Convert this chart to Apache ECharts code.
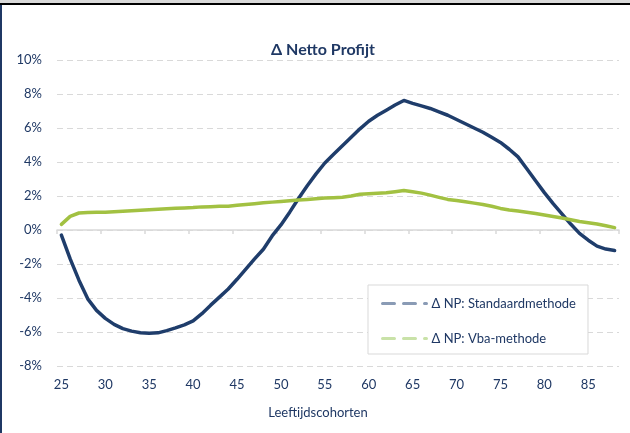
<!DOCTYPE html>
<html>
<head>
<meta charset="utf-8">
<script src="https://cdn.jsdelivr.net/npm/echarts@6/dist/echarts.min.js"></script>
<style>
html,body{margin:0;padding:0;background:#fff;}
#chart{width:630px;height:433px;}
</style>
</head>
<body>
<div id="chart"></div>
<script>
const ages = [];
for (let a = 25; a <= 88; a++) ages.push(String(a));

const standaard = [
  -0.3, -1.7, -2.95, -4.05, -4.73, -5.2, -5.55, -5.8, -5.95, -6.04,
  -6.07, -6.05, -5.92, -5.76, -5.58, -5.35, -4.92, -4.42, -3.95, -3.47,
  -2.9, -2.3, -1.7, -1.13, -0.35, 0.3, 1.05, 1.85, 2.6, 3.3,
  3.94, 4.45, 4.95, 5.45, 5.95, 6.4, 6.75, 7.05, 7.35, 7.62,
  7.45, 7.3, 7.15, 6.95, 6.75, 6.5, 6.25, 6.0, 5.75, 5.45,
  5.15, 4.75, 4.3, 3.6, 2.9, 2.2, 1.55, 0.95, 0.35, -0.2,
  -0.6, -0.95, -1.12, -1.2
];

const vba = [
  0.33, 0.8, 1.0, 1.03, 1.04, 1.05, 1.08, 1.11, 1.13, 1.16,
  1.19, 1.22, 1.25, 1.28, 1.3, 1.32, 1.36, 1.37, 1.39, 1.4,
  1.45, 1.5, 1.55, 1.6, 1.64, 1.68, 1.72, 1.76, 1.8, 1.84,
  1.88, 1.9, 1.93, 2.0, 2.1, 2.13, 2.16, 2.19, 2.25, 2.32,
  2.25, 2.17, 2.05, 1.92, 1.8, 1.73, 1.66, 1.58, 1.5, 1.4,
  1.27, 1.18, 1.12, 1.05, 0.97, 0.88, 0.8, 0.71, 0.6, 0.5,
  0.43, 0.35, 0.25, 0.14
];

const seriesNames = ['\u0394 NP: Standaardmethode', '\u0394 NP: Vba-methode'];
const titleText = '\u0394 Netto Profijt';
const xName = 'Leeftijdscohorten';

const navy = '#1f3d6b';
const green = '#a2c142';
const textColor = '#1f3864';
const font = 'Lato, "Open Sans", sans-serif';

const chart = echarts.init(document.getElementById('chart'), null, {renderer: 'canvas'});
chart.setOption({
  animation: false,
  backgroundColor: '#fff',
  title: {
    text: titleText,
    left: 318, top: 37,
    textAlign: 'center',
    textStyle: {fontFamily: font, fontSize: 16, fontWeight: 'bold', color: textColor}
  },
  graphic: [
    {type: 'rect', shape: {x: 0, y: 0, width: 630, height: 3}, style: {fill: '#d9d9d9'}},
    {type: 'rect', shape: {x: 0, y: 3, width: 630, height: 2}, style: {fill: '#000'}},
    {type: 'rect', shape: {x: 0, y: 5, width: 2, height: 428}, style: {fill: '#1f3864'}},
    {type: 'text', x: 318, y: 406,
      style: {text: xName, fontFamily: font, fontSize: 13, fill: textColor, textAlign: 'center'}}
  ],
  legend: {
    orient: 'vertical',
    left: 368, top: 285,
    padding: [12, 12, 9, 13],
    backgroundColor: '#fff',
    borderColor: '#d9d9d9',
    borderWidth: 1,
    borderRadius: 0,
    itemWidth: 44,
    itemHeight: 14,
    itemGap: 22,
    textStyle: {fontFamily: font, fontSize: 13, color: textColor},
    data: [
      {name: seriesNames[0], lineStyle: {color: '#8a9bb5', width: 3, type: [12, 9]}, itemStyle: {opacity: 0}},
      {name: seriesNames[1], lineStyle: {color: '#c9e2a8', width: 3, type: [12, 9]}, itemStyle: {opacity: 0}}
    ]
  },
  grid: {left: 57, right: 11, top: 60, bottom: 67, containLabel: false},
  xAxis: [
    {
      type: 'category', data: ages, boundaryGap: true, position: 'bottom',
      axisLine: {show: false, onZero: false},
      axisTick: {show: false},
      axisLabel: {interval: 4, margin: 12, fontFamily: font, fontSize: 13, color: textColor},
      splitLine: {show: false}
    },
    {
      type: 'category', data: ages, boundaryGap: true, position: 'bottom',
      axisLine: {show: true, onZero: true, lineStyle: {color: '#d9d9d9', width: 1.5}},
      axisTick: {show: true, interval: 4, length: 4, lineStyle: {color: '#d9d9d9', width: 1.5}},
      axisLabel: {show: false},
      splitLine: {show: false}
    }
  ],
  yAxis: {
    type: 'value', min: -8, max: 10, interval: 2,
    axisLine: {show: false},
    axisTick: {show: false},
    axisLabel: {formatter: '{value}%', margin: 15, fontFamily: font, fontSize: 13, color: textColor},
    splitLine: {show: true, lineStyle: {color: '#d9d9d9', width: 1, type: [6, 4]}}
  },
  series: [
    {
      name: seriesNames[0], type: 'line', data: standaard, xAxisIndex: 0,
      symbol: 'none', showSymbol: false,
      lineStyle: {color: navy, width: 3.5, join: 'round', cap: 'round'},
      itemStyle: {color: navy}
    },
    {
      name: seriesNames[1], type: 'line', data: vba, xAxisIndex: 0,
      symbol: 'none', showSymbol: false,
      lineStyle: {color: green, width: 3.5, join: 'round', cap: 'round'},
      itemStyle: {color: green}
    }
  ]
});
</script>
</body>
</html>
